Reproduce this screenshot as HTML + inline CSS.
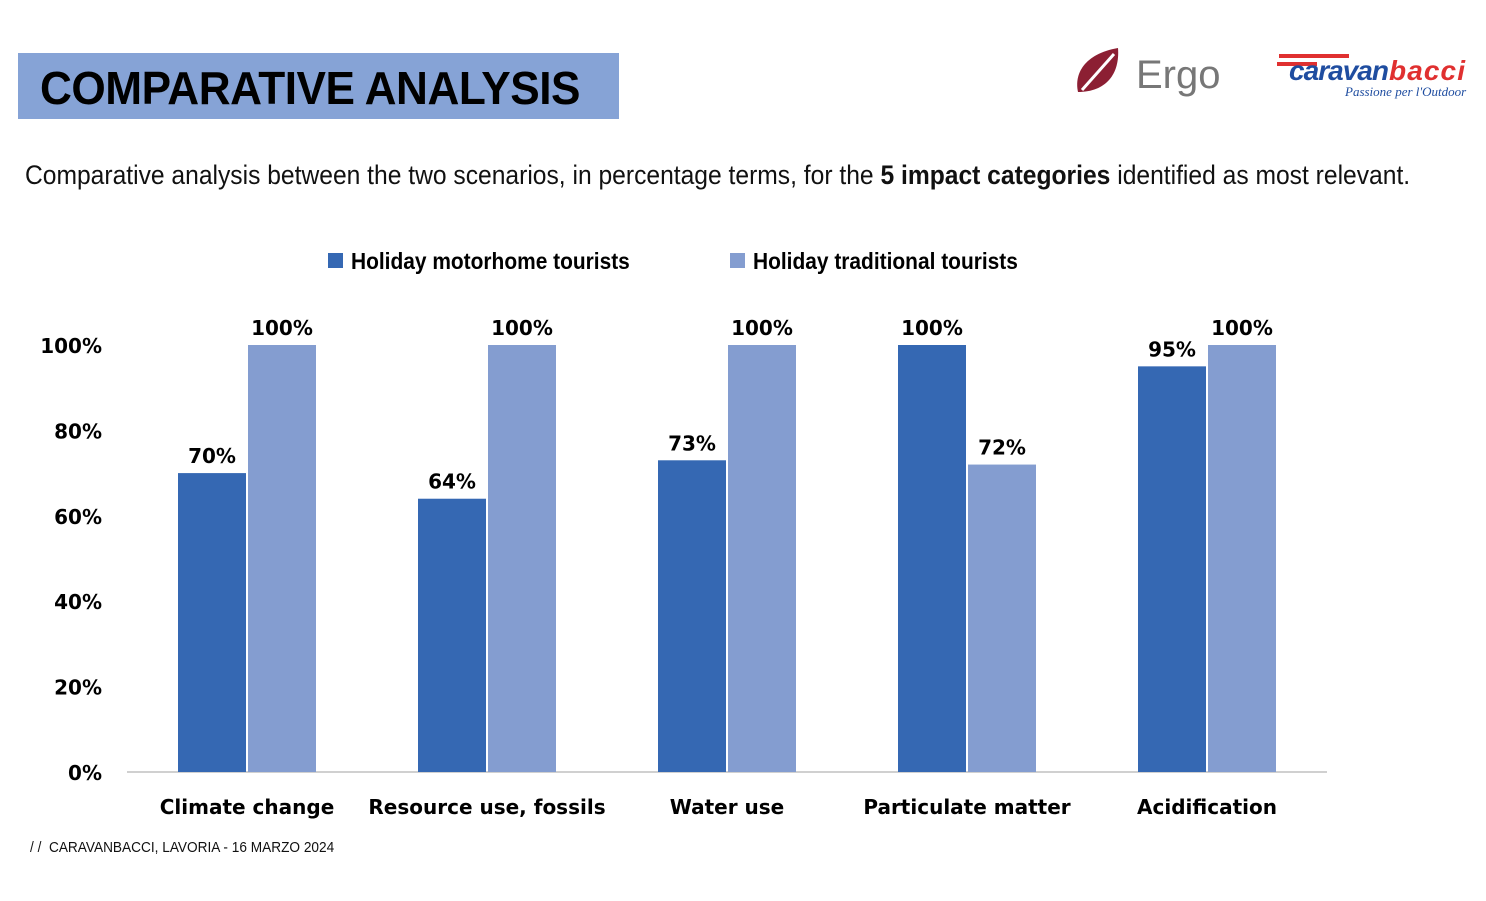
<!DOCTYPE html>
<html><head><meta charset="utf-8">
<style>
body{margin:0;width:1486px;height:901px;background:#fff;position:relative;overflow:hidden;font-family:"Liberation Sans",sans-serif}
.title{position:absolute;left:18px;top:53px;width:601px;height:66px;background:#86a3d6}
.title span{position:absolute;left:22px;top:8px;font-size:46px;font-weight:bold;color:#000;transform:scaleX(0.96);transform-origin:left;letter-spacing:-0.5px;white-space:nowrap}
.sub{position:absolute;left:25px;top:160px;font-size:27px;color:#111;transform:scaleX(0.912);transform-origin:left;white-space:nowrap}
.foot{position:absolute;left:30px;top:839px;font-size:15px;color:#111;transform:scaleX(0.91);transform-origin:left;white-space:nowrap}
</style></head><body>
<div class="title"><span>COMPARATIVE ANALYSIS</span></div>
<div class="sub">Comparative analysis between the two scenarios, in percentage terms, for the <b>5 impact categories</b> identified as most relevant.</div>
<div style="position:absolute;left:1070px;top:44px">
<svg width="160" height="56"><path d="M8 48 C4 30 14 10 48 4 C50 30 36 48 8 48Z" fill="#8c1f33"/><path d="M12 46 L44 10" stroke="#fff" stroke-width="3"/><text x="66" y="44" font-size="40" fill="#777" font-family="Liberation Sans">Ergo</text></svg></div>
<div style="position:absolute;left:1275px;top:48px">
<svg width="195" height="56"><rect x="4" y="6" width="70" height="4" fill="#e03030"/><rect x="2" y="14" width="40" height="4" fill="#e03030"/><text x="14" y="32" font-size="28" font-weight="bold" font-style="italic" fill="#1f4da0" font-family="Liberation Sans" textLength="100">caravan</text><text x="114" y="32" font-size="28" font-weight="bold" font-style="italic" fill="#e03030" font-family="Liberation Sans" textLength="76">bacci</text><text x="70" y="48" font-size="13" font-style="italic" fill="#1f4da0" font-family="Liberation Serif">Passione per l'Outdoor</text></svg></div>
<svg id="chart" width="1486" height="901" style="position:absolute;left:0;top:0"></svg>
<div class="foot">/ /&nbsp; CARAVANBACCI, LAVORIA - 16 MARZO 2024</div>
<script>
const categories=["Climate change","Resource use, fossils","Water use","Particulate matter","Acidification"];
const motorhome=[70,64,73,100,95];
const traditional=[100,100,100,72,100];
const ticks=[0,20,40,60,80,100];
const seriesNames=["Holiday motorhome tourists","Holiday traditional tourists"];
const colors=["#3568b3","#849dd0"];
const ns="http://www.w3.org/2000/svg";
const svg=document.getElementById("chart");
const y=v=>772-v*4.27;
const cx=i=>247+i*240;
function mk(t,a,txt){const e=document.createElementNS(ns,t);for(const k in a)e.setAttribute(k,a[k]);if(txt!==undefined)e.textContent=txt;svg.appendChild(e);return e;}
const F='"DejaVu Sans",sans-serif';
ticks.forEach(t=>{const e=mk("text",{x:102,y:y(t)+8,"text-anchor":"end","font-size":20,"font-weight":"bold","font-family":F},t+"%");

});
const ax=mk("line",{x1:127,x2:1327,y1:772,y2:772,stroke:"#d0d0d0","stroke-width":2});


[motorhome,traditional].forEach((s,si)=>{s.forEach((v,i)=>{
const x=si==0?cx(i)-69:cx(i)+1;
const r=mk("rect",{x:x,y:y(v),width:68,height:772-y(v),fill:colors[si]});


const l=mk("text",{x:x+34,y:y(v)-10,"text-anchor":"middle","font-size":20,"font-weight":"bold","font-family":F},v+"%");


});});
categories.forEach((c,i)=>{const e=mk("text",{x:cx(i),y:814,"text-anchor":"middle","font-size":20,"font-weight":"bold","font-family":F},c);

});
[[328,351],[730,753]].forEach((p,i)=>{
const r=mk("rect",{x:p[0],y:253,width:15,height:15,fill:colors[i]});


const t=mk("text",{x:p[1],y:269,"font-size":23,"font-weight":"bold","font-family":'"Liberation Sans",sans-serif',transform:"translate("+p[1]+",0) scale(0.91,1) translate("+(-p[1])+",0)"},seriesNames[i]);


});
</script>
</body></html>
